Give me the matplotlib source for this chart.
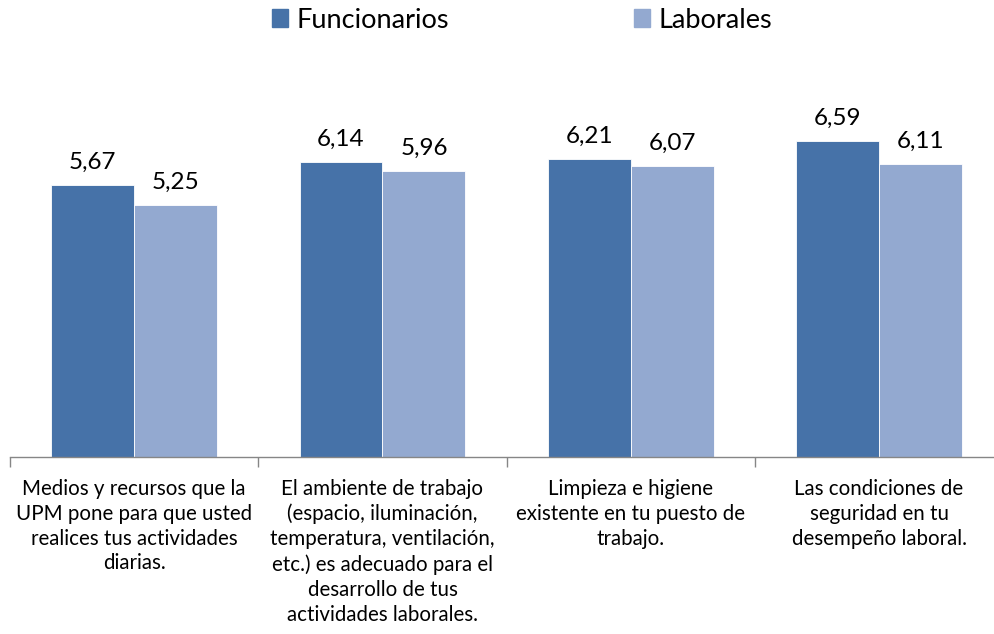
import numpy as np
import matplotlib.pyplot as plt

plt.rcParams['font.family'] = ['Lato', 'DejaVu Sans']

categorias = [
    "Medios y recursos que la\nUPM pone para que usted\nrealices tus actividades\ndiarias.",
    "El ambiente de trabajo\n(espacio, iluminación,\ntemperatura, ventilación,\netc.) es adecuado para el\ndesarrollo de tus\nactividades laborales.",
    "Limpieza e higiene\nexistente en tu puesto de\ntrabajo.",
    "Las condiciones de\nseguridad en tu\ndesempeño laboral.",
]
funcionarios = [5.67, 6.14, 6.21, 6.59]
laborales = [5.25, 5.96, 6.07, 6.11]
series = ["Funcionarios", "Laborales"]
colores = ["#4672A8", "#93A9D0"]

W, H = 995, 634
fig = plt.figure(figsize=(W / 100, H / 100), dpi=100)
# eje: izquierda 10px, base 457px, 48px por unidad, 248.3px por grupo
left, bottom, gw = 10, 457, 248.3
ax = fig.add_axes([left / W, (H - bottom) / H, 4 * gw / W, 8 * 48 / H])
ax.set_xlim(0, 4)
ax.set_ylim(0, 8)

x = np.arange(4) + 0.5
bw = 0.334
b1 = ax.bar(x - bw / 2, funcionarios, bw, color=colores[0], edgecolor="white", linewidth=0.6, label=series[0])
b2 = ax.bar(x + bw / 2, laborales, bw, color=colores[1], edgecolor="white", linewidth=0.6, label=series[1])

for bars, vals in [(b1, funcionarios), (b2, laborales)]:
    for b, v in zip(bars, vals):
        ax.text(b.get_x() + b.get_width() / 2, v + 0.25, f"{v:.2f}".replace(".", ","),
                ha="center", va="bottom", fontsize=17.5, color="#000000")

for s in ["top", "right", "left"]:
    ax.spines[s].set_visible(False)
ax.spines["bottom"].set_color("#868686")
ax.spines["bottom"].set_linewidth(1)
ax.set_yticks([])
ax.set_xticks(np.arange(5))
ax.set_xticklabels([])
ax.tick_params(axis="x", length=7, color="#868686", width=1)

for xi, lab in zip(x, categorias):
    ax.text(xi, -0.45, lab, ha="center", va="top", fontsize=14.8, linespacing=1.31,
            transform=ax.transData)

handles = [plt.Rectangle((0, 0), 1, 1, color=c) for c in colores]
fig.legend(handles, series, loc="center", bbox_to_anchor=(522 / W, 1 - 20 / H), ncol=2,
           frameon=False, fontsize=19.5, handlelength=0.6, handleheight=0.6,
           handletextpad=0.3, columnspacing=6.85)

fig.savefig("out.png", dpi=100)
